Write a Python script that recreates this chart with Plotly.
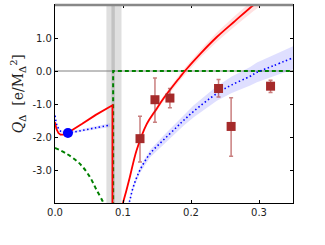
import plotly.graph_objects as go

# ---- data ----
x_ticks = [0.0, 0.1, 0.2, 0.3]
x_ticklabels = ["0.0", "0.1", "0.2", "0.3"]
y_ticks = [-3.0, -2.0, -1.0, 0.0, 1.0]
y_ticklabels = ["-3.0", "-2.0", "-1.0", "0.0", "1.0"]

# red solid curve, left branch (ends in vertical drop at the pole)
red_l_x = [0.0, 0.002, 0.005, 0.008, 0.012, 0.019, 0.04, 0.06, 0.0845, 0.0845]
red_l_y = [-1.55, -1.75, -1.88, -1.93, -1.93, -1.87, -1.6, -1.33, -1.04, -4.2]
red_l_err = [0.02, 0.02, 0.02, 0.02, 0.02, 0.02, 0.03, 0.04, 0.05, 0.05]

# red solid curve, right branch
red_r_x = [0.098, 0.1, 0.105, 0.11, 0.12, 0.135, 0.147, 0.16, 0.184, 0.191, 0.215, 0.238, 0.265, 0.292, 0.305]
red_r_y = [-4.2, -4.0, -3.62, -3.22, -2.4, -1.6, -1.22, -0.82, -0.18, 0.0, 0.55, 1.03, 1.52, 2.0, 2.2]
red_r_err = [0.03, 0.03, 0.04, 0.04, 0.05, 0.06, 0.07, 0.08, 0.1, 0.1, 0.12, 0.14, 0.16, 0.18, 0.19]

# blue dotted curve, left branch
blue_l_x = [0.0, 0.003, 0.008, 0.014, 0.019, 0.04, 0.06, 0.081]
blue_l_y = [-1.35, -1.65, -1.82, -1.87, -1.88, -1.8, -1.72, -1.64]
blue_l_err = [0.03, 0.03, 0.03, 0.03, 0.03, 0.04, 0.05, 0.06]

# blue dotted curve, right branch
blue_r_x = [0.106, 0.11, 0.115, 0.125, 0.14, 0.159, 0.179, 0.189, 0.204, 0.238, 0.26, 0.287, 0.297, 0.32, 0.35]
blue_r_y = [-4.2, -3.92, -3.52, -3.0, -2.5, -2.1, -1.7, -1.5, -1.22, -0.68, -0.42, -0.16, -0.04, 0.15, 0.4]
blue_r_err = [0.05, 0.06, 0.07, 0.09, 0.11, 0.13, 0.15, 0.16, 0.18, 0.22, 0.25, 0.28, 0.3, 0.32, 0.35]

# green dashed curve
green_l_x = [0.0, 0.0165, 0.036, 0.051, 0.061, 0.0706, 0.0725]
green_l_y = [-2.33, -2.5, -2.8, -3.2, -3.6, -3.97, -4.1]
green_r_x = [0.0855, 0.0855, 0.35]
green_r_y = [-4.1, 0.0, 0.0]

# physical point (blue dot)
dot_x = [0.019]
dot_y = [-1.88]

# lattice data points
data_x = [0.125, 0.147, 0.169, 0.2405, 0.259, 0.317]
data_y = [-2.05, -0.87, -0.82, -0.53, -1.68, -0.46]
data_up = [0.68, 0.66, 0.29, 0.27, 0.87, 0.18]
data_dn = [0.71, 0.68, 0.29, 0.26, 0.90, 0.19]

# pole band
band_x0, band_x1 = 0.0756, 0.0978
core_x0, core_x1 = 0.083, 0.088

fig = go.Figure()

def band(xs, ys, es, color):
    up = [y + e for y, e in zip(ys, es)]
    dn = [y - e for y, e in zip(ys, es)]
    fig.add_trace(go.Scatter(x=xs + xs[::-1], y=up + dn[::-1], fill="toself",
                             fillcolor=color, line=dict(width=0), mode="lines",
                             hoverinfo="skip", showlegend=False))

band(red_r_x, red_r_y, red_r_err, "rgba(255,120,120,0.22)")
band(red_l_x[:-2], red_l_y[:-2], red_l_err[:-2], "rgba(255,120,120,0.22)")
band(blue_r_x, blue_r_y, blue_r_err, "rgba(110,110,255,0.22)")
band(blue_l_x, blue_l_y, blue_l_err, "rgba(110,110,255,0.22)")

fig.add_trace(go.Scatter(x=green_l_x, y=green_l_y, mode="lines", line_shape="spline",
                         line=dict(color="green", width=2, dash="4px,3px"), showlegend=False))
fig.add_trace(go.Scatter(x=green_r_x, y=green_r_y, mode="lines",
                         line=dict(color="green", width=2, dash="4px,3px"), showlegend=False))
fig.add_trace(go.Scatter(x=red_l_x, y=red_l_y, mode="lines",
                         line=dict(color="red", width=1.8), showlegend=False))
fig.add_trace(go.Scatter(x=red_r_x, y=red_r_y, mode="lines", line_shape="spline",
                         line=dict(color="red", width=1.8), showlegend=False))
fig.add_trace(go.Scatter(x=blue_l_x, y=blue_l_y, mode="lines", line_shape="spline",
                         line=dict(color="blue", width=1.6, dash="1.5px,2.5px"), showlegend=False))
fig.add_trace(go.Scatter(x=blue_r_x, y=blue_r_y, mode="lines", line_shape="spline",
                         line=dict(color="blue", width=1.6, dash="1.5px,2.5px"), showlegend=False))
fig.add_trace(go.Scatter(x=dot_x, y=dot_y, mode="markers",
                         marker=dict(color="blue", size=10), showlegend=False))
fig.add_trace(go.Scatter(x=data_x, y=data_y, mode="markers",
                         marker=dict(color="#a52a2a", size=9, symbol="square"),
                         error_y=dict(type="data", symmetric=False, array=data_up, arrayminus=data_dn,
                                      color="rgba(165,42,42,0.6)", thickness=1.5, width=2),
                         showlegend=False))

fig.add_shape(type="rect", xref="x", yref="paper", x0=band_x0, x1=band_x1, y0=0, y1=1,
              fillcolor="rgba(128,128,128,0.25)", line_width=0, layer="below")
fig.add_shape(type="rect", xref="x", yref="paper", x0=core_x0, x1=core_x1, y0=0, y1=1,
              fillcolor="rgba(128,128,128,0.3)", line_width=0, layer="below")
fig.add_shape(type="line", xref="paper", yref="y", x0=0, x1=1, y0=0, y1=0,
              line=dict(color="gray", width=1), layer="below")
fig.add_shape(type="line", xref="paper", yref="paper", x0=0, x1=1, y0=1, y1=1,
              line=dict(color="#888888", width=2.5), layer="above")

fig.add_annotation(text="<i>Q</i><sub>Δ</sub>  [e/M<sub>Δ</sub><sup>2</sup>]",
                   xref="paper", yref="paper", x=-0.155, y=0.55, textangle=-90,
                   showarrow=False, font=dict(family="DejaVu Serif", size=14, color="#222"),
                   xanchor="center", yanchor="middle")

fig.update_xaxes(range=[0, 0.35], tickvals=x_ticks, ticktext=x_ticklabels,
                 ticks="inside", ticklen=3, tickcolor="black", showline=True, linecolor="black",
                 linewidth=1.2, mirror="ticks", showgrid=False, zeroline=False,
                 tickfont=dict(family="DejaVu Sans", size=10, color="#222"))
fig.update_yaxes(range=[-4, 2], tickvals=y_ticks, ticktext=y_ticklabels,
                 ticks="inside", ticklen=3, tickcolor="black", showline=True, linecolor="black",
                 linewidth=1.2, mirror="ticks", showgrid=False, zeroline=False,
                 tickfont=dict(family="DejaVu Sans", size=10, color="#222"))

fig.update_layout(width=325, height=245, margin=dict(l=55, r=32, t=5, b=42),
                  plot_bgcolor="white", paper_bgcolor="white")

fig.write_html("out.html", config={"displayModeBar": False},
               post_script="document.body.style.margin='0px';")
